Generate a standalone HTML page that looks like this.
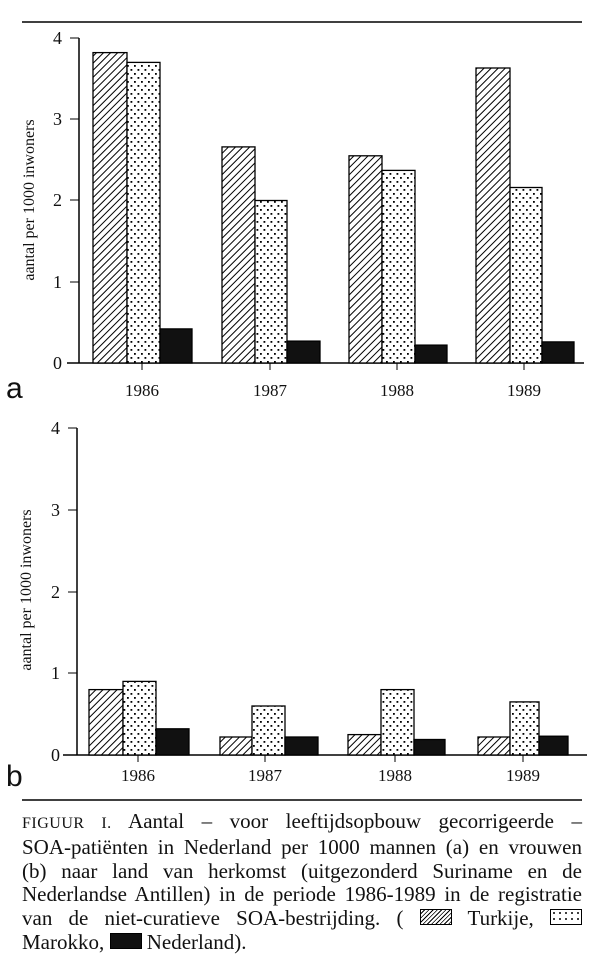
<!DOCTYPE html>
<html><head><meta charset="utf-8"><style>
html,body{margin:0;padding:0;background:#fff;}
svg{display:block}
.cap{position:absolute;left:22px;top:810px;width:560px;font-family:"Liberation Serif",serif;font-size:21px;line-height:23.8px;color:#111;}
.cap p{margin:0;white-space:nowrap;text-align:justify;text-align-last:justify;}
.cap p.last{text-align-last:left;}
.sc{font-size:16px;letter-spacing:0.5px;}
.lg{display:inline-block;width:30px;height:14px;border:1px solid #000;vertical-align:0px;}
</style></head><body>
<div style="position:relative;width:600px;height:960px;overflow:hidden">
<svg width="600" height="960" viewBox="0 0 600 960" xmlns="http://www.w3.org/2000/svg" style="position:absolute;left:0;top:0">
<defs>
<pattern id="h" width="5" height="5" patternUnits="userSpaceOnUse" patternTransform="rotate(45)">
<rect width="5" height="5" fill="#fff"/><line x1="0" y1="0" x2="0" y2="5" stroke="#000" stroke-width="2"/></pattern>
<pattern id="d" width="7" height="8" patternUnits="userSpaceOnUse">
<rect width="7" height="8" fill="#fff"/><rect x="1" y="1" width="1.8" height="1.8" fill="#000"/><rect x="4.5" y="5" width="1.8" height="1.8" fill="#000"/></pattern>
</defs>
<g stroke="#000" fill="none">
<line x1="22" y1="22" x2="582" y2="22" stroke-width="1.5"/>
<line x1="22" y1="800" x2="582" y2="800" stroke-width="1.5"/>
<line x1="79" y1="38" x2="79" y2="363" stroke-width="1.5"/>
<line x1="67" y1="363" x2="584" y2="363" stroke-width="1.5"/>
<line x1="70" y1="38" x2="79" y2="38"/><line x1="70" y1="119" x2="79" y2="119"/><line x1="70" y1="200" x2="79" y2="200"/><line x1="70" y1="282" x2="79" y2="282"/>
<line x1="142" y1="363" x2="142" y2="370"/><line x1="270" y1="363" x2="270" y2="370"/><line x1="397" y1="363" x2="397" y2="370"/><line x1="524" y1="363" x2="524" y2="370"/>
<line x1="77" y1="428" x2="77" y2="755" stroke-width="1.5"/>
<line x1="63" y1="755" x2="587" y2="755" stroke-width="1.5"/>
<line x1="68" y1="428" x2="77" y2="428"/><line x1="68" y1="510" x2="77" y2="510"/><line x1="68" y1="592" x2="77" y2="592"/><line x1="68" y1="673" x2="77" y2="673"/>
<line x1="138" y1="755" x2="138" y2="762"/><line x1="265" y1="755" x2="265" y2="762"/><line x1="395" y1="755" x2="395" y2="762"/><line x1="523" y1="755" x2="523" y2="762"/>
</g>
<g stroke="#000" stroke-width="1.3">
<rect x="93" y="52.6" width="34" height="310.4" fill="url(#h)"/>
<rect x="127" y="62.4" width="33" height="300.6" fill="url(#d)"/>
<rect x="160" y="328.9" width="32" height="34.1" fill="#111"/>
<rect x="222" y="146.9" width="33" height="216.1" fill="url(#h)"/>
<rect x="255" y="200.5" width="32" height="162.5" fill="url(#d)"/>
<rect x="287" y="341.1" width="33" height="21.9" fill="#111"/>
<rect x="349" y="155.8" width="33" height="207.2" fill="url(#h)"/>
<rect x="382" y="170.4" width="33" height="192.6" fill="url(#d)"/>
<rect x="415" y="345.1" width="32" height="17.9" fill="#111"/>
<rect x="476" y="68" width="34" height="295" fill="url(#h)"/>
<rect x="510" y="187.5" width="32" height="175.5" fill="url(#d)"/>
<rect x="542" y="341.9" width="32" height="21.1" fill="#111"/>
<rect x="89" y="689.6" width="34" height="65.4" fill="url(#h)"/>
<rect x="123" y="681.4" width="33" height="73.6" fill="url(#d)"/>
<rect x="156" y="728.8" width="33" height="26.2" fill="#111"/>
<rect x="220" y="737" width="32" height="18" fill="url(#h)"/>
<rect x="252" y="706" width="33" height="49" fill="url(#d)"/>
<rect x="285" y="737" width="33" height="18" fill="#111"/>
<rect x="348" y="734.6" width="33" height="20.4" fill="url(#h)"/>
<rect x="381" y="689.6" width="33" height="65.4" fill="url(#d)"/>
<rect x="414" y="739.5" width="31" height="15.5" fill="#111"/>
<rect x="478" y="737" width="32" height="18" fill="url(#h)"/>
<rect x="510" y="701.9" width="29" height="53.1" fill="url(#d)"/>
<rect x="539" y="736.2" width="29" height="18.8" fill="#111"/>
</g>
<g font-family="Liberation Serif, serif" font-size="18" fill="#111">
<text x="62" y="44" text-anchor="end">4</text><text x="62" y="125" text-anchor="end">3</text><text x="62" y="206" text-anchor="end">2</text><text x="62" y="288" text-anchor="end">1</text><text x="62" y="369" text-anchor="end">0</text>
<text x="60" y="434" text-anchor="end">4</text><text x="60" y="516" text-anchor="end">3</text><text x="60" y="598" text-anchor="end">2</text><text x="60" y="679" text-anchor="end">1</text><text x="60" y="761" text-anchor="end">0</text>
<g font-size="17" text-anchor="middle">
<text x="142" y="396">1986</text><text x="270" y="396">1987</text><text x="397" y="396">1988</text><text x="524" y="396">1989</text>
<text x="138" y="781">1986</text><text x="265" y="781">1987</text><text x="395" y="781">1988</text><text x="523" y="781">1989</text>
</g>
<text transform="translate(34,200) rotate(-90)" font-size="16" text-anchor="middle">aantal per 1000 inwoners</text>
<text transform="translate(31,590) rotate(-90)" font-size="16" text-anchor="middle">aantal per 1000 inwoners</text>
</g>
<g font-family="Liberation Sans, sans-serif" font-size="30" fill="#111">
<text x="6" y="398">a</text><text x="6" y="786">b</text>
</g>
</svg>
<div class="cap">
<p><span class="sc">FIGUUR I.</span> Aantal – voor leeftijdsopbouw gecorrigeerde –</p>
<p>SOA-patiënten in Nederland per 1000 mannen (a) en vrouwen</p>
<p>(b) naar land van herkomst (uitgezonderd Suriname en de</p>
<p>Nederlandse Antillen) in de periode 1986-1989 in de registratie</p>
<p>van de niet-curatieve SOA-bestrijding. ( <span class="lg" style="background:repeating-linear-gradient(135deg,#fff 0 2px,#000 2px 3px)"></span> Turkije, <span class="lg" style="background:radial-gradient(#000 0.8px,#fff 1px) 0 0/6px 6px"></span></p>
<p class="last">Marokko, <span class="lg" style="background:#111"></span> Nederland).</p>
</div>
</div>
</body></html>
